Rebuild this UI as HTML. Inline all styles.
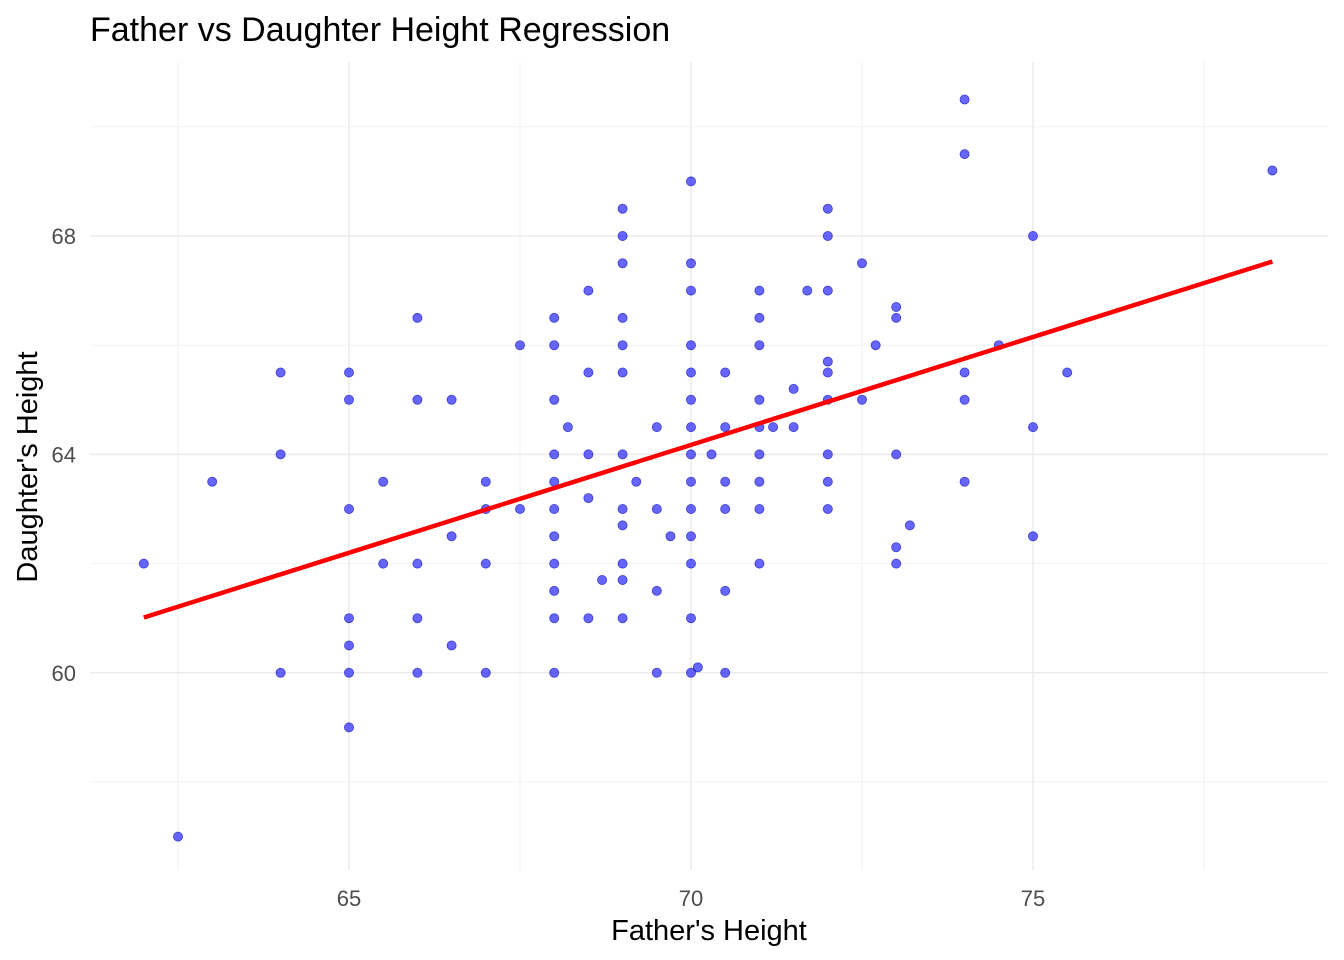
<!DOCTYPE html>
<html><head><meta charset="utf-8"><style>
html,body{margin:0;padding:0;background:#fff;}
svg{display:block;font-family:"Liberation Sans",Arial,sans-serif;}
</style></head><body>
<svg id="chart" width="1344" height="960">
<text x="90" y="41" font-size="34" fill="#000">Father vs Daughter Height Regression</text>
<g id="grid"></g>
<g id="points"></g>
<g id="line"></g>
<g id="ticks"></g>
<text x="709" y="940" font-size="29" text-anchor="middle" fill="#000">Father's Height</text>
<text transform="translate(37,467) rotate(-90)" font-size="29" text-anchor="middle" fill="#000">Daughter's Height</text>
</svg>
<script>
const fatherX=[62,62.5,63,64,64,64,65,65,65,65,65,65,65,65.5,65.5,66,66,66,66,66,66.5,66.5,66.5,67,67,67,67,67.5,67.5,68,68,68,68,68,68,68,68,68,68,68,68.2,68.5,68.5,68.5,68.5,68.5,68.7,69,69,69,69,69,69,69,69,69,69,69,69,69.2,69.5,69.5,69.5,69.5,69.7,70,70,70,70,70,70,70,70,70,70,70,70,70,70.1,70,70.3,70.5,70.5,70.5,70.5,70.5,70.5,71,71,71,71,71,71,71,71,71,71.2,71.5,71.5,71.7,72,72,72,72,72,72,72,72,72,72.5,72.5,72.7,73,73,73,73,73,73.2,74,74,74,74,74,74.5,75,75,75,75.5,78.5];
const daughterY=[62,57,63.5,65.5,64,60,65.5,65,63,61,60.5,60,59,63.5,62,66.5,65,62,61,60,65,62.5,60.5,63.5,63,62,60,66,63,66.5,66,65,64,63.5,63,62.5,62,61.5,61,60,64.5,67,65.5,64,63.2,61,61.7,68.5,68,67.5,66.5,66,65.5,64,63,62.7,62,61.7,61,63.5,64.5,63,61.5,60,62.5,69,67.5,67,66,65.5,65,64.5,64,63.5,63,62.5,62,61,60.1,60,64,65.5,64.5,63.5,63,61.5,60,67,66.5,66,65,64.5,64,63.5,63,62,64.5,65.2,64.5,67,68.5,68,67,65.7,65.5,65,64,63.5,63,67.5,65,66,66.7,66.5,64,62.3,62,62.7,70.5,69.5,65.5,65,63.5,66,68,64.5,62.5,65.5,69.2];
const xTicks=[65,70,75];
const xMinor=[62.5,67.5,72.5,77.5];
const yTicks=[60,64,68];
const yMinor=[58,62,66,70];
const fitCoef=[36.51,0.3952];
const fitRange=[62,78.5];

const NS="http://www.w3.org/2000/svg";
const X=v=>349+(v-65)*68.4;
const Y=v=>236-(v-68)*54.6;
const L=90,R=1328,T=62,B=870;
function mk(tag,attrs,parent){const e=document.createElementNS(NS,tag);for(const k in attrs)e.setAttribute(k,attrs[k]);parent.appendChild(e);return e;}
const grid=document.getElementById('grid');
xMinor.forEach(v=>{const e=mk('line',{x1:X(v),x2:X(v),y1:T,y2:B,stroke:'#f2f2f2','stroke-width':1},grid);

});
yMinor.forEach(v=>{const e=mk('line',{x1:L,x2:R,y1:Y(v),y2:Y(v),stroke:'#f2f2f2','stroke-width':1},grid);

});
xTicks.forEach(v=>{const e=mk('line',{x1:X(v),x2:X(v),y1:T,y2:B,stroke:'#ebebeb','stroke-width':1.5},grid);

});
yTicks.forEach(v=>{const e=mk('line',{x1:L,x2:R,y1:Y(v),y2:Y(v),stroke:'#ebebeb','stroke-width':1.5},grid);

});
const ticks=document.getElementById('ticks');
xTicks.forEach(v=>{const t=mk('text',{x:X(v),y:906,'font-size':22,'text-anchor':'middle',fill:'#4d4d4d'},ticks);t.textContent=v;

});
yTicks.forEach(v=>{const t=mk('text',{x:76,y:Y(v)+8,'font-size':22,'text-anchor':'end',fill:'#4d4d4d'},ticks);t.textContent=v;

});
const pts=document.getElementById('points');
fatherX.forEach((fx,i)=>{const c=mk('circle',{cx:X(fx),cy:Y(daughterY[i]),r:4.6,fill:'rgba(0,0,255,0.6)',stroke:'rgba(0,0,160,0.6)','stroke-width':0.8},pts);

});
const lg=document.getElementById('line');
const ln=mk('line',{x1:X(fitRange[0]),y1:Y(fitCoef[0]+fitCoef[1]*fitRange[0]),x2:X(fitRange[1]),y2:Y(fitCoef[0]+fitCoef[1]*fitRange[1]),stroke:'#ff0000','stroke-width':4.5},lg);


</script>
</body></html>
